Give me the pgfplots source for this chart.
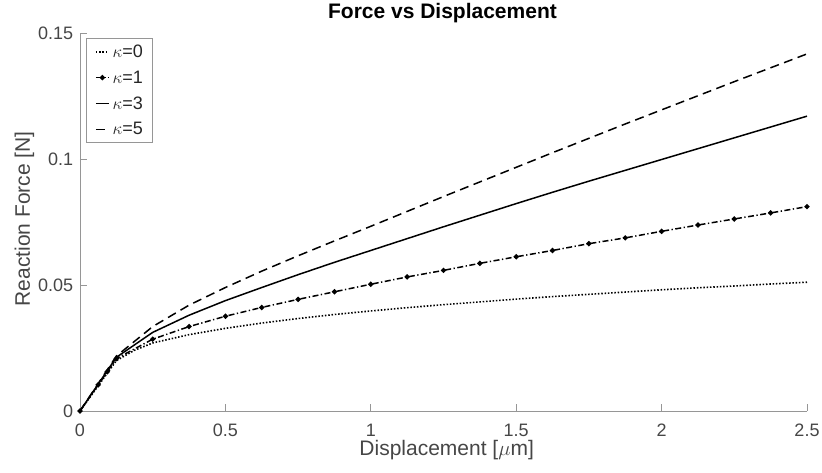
\documentclass[border=0pt]{standalone}
\usepackage{pgfplots}
\pgfplotsset{compat=1.18}
\usepackage{fontspec}
\setmainfont{Liberation Sans}
\definecolor{axgray}{RGB}{150,150,150}
\definecolor{txtgray}{RGB}{70,70,70}
\begin{document}
\begin{tikzpicture}
\begin{axis}[
  scale only axis, width=727pt, height=378pt,
  xmin=0, xmax=2.5, ymin=0, ymax=0.15,
  clip=false,
  axis lines*=left,
  axis line style={axgray, line width=0.8pt},
  tick align=inside,
  major tick length=7pt,
  tick style={axgray, line width=0.8pt},
  xtick={0,0.5,1,1.5,2,2.5}, xticklabels={0,0.5,1,1.5,2,2.5},
  ytick={0,0.05,0.1,0.15}, yticklabels={0,0.05,0.1,0.15},
  /pgf/number format/assume math mode=true,
  ticklabel style={font=\fontsize{18}{18}\selectfont, text=txtgray},
  xticklabel style={anchor=north, inner sep=0pt, text height=25pt, text depth=0pt},
  yticklabel style={anchor=east, inner sep=0pt, xshift=-6.7pt},
  title={Force vs Displacement},
  title style={at={(axis description cs:0.4986,1.0238)}, anchor=base, inner sep=0pt, font=\fontsize{21}{21}\selectfont\bfseries, text=black},
  xlabel={Displacement [$\mu$m]},
  xlabel style={at={(axis description cs:0.5044,-0.1190)}, anchor=base, inner sep=0pt, font=\fontsize{21}{21}\selectfont, text=txtgray},
  ylabel={Reaction Force [N]},
  ylabel style={at={(axis description cs:-0.0688,0.508)}, anchor=base, inner sep=0pt, font=\fontsize{21}{21}\selectfont, text=txtgray},
  legend style={at={(axis description cs:0.0078,0.986)}, anchor=north west,
    draw=axgray, line width=0.8pt, fill=white,
    font=\fontsize{18}{18}\selectfont, text=black!85,
    inner xsep=9pt, inner ysep=6pt, row sep=11.9pt, column sep=3pt,
    nodes={inner sep=0pt}},
  legend cell align=left,
  legend image code/.code={\draw[mark repeat=2,mark phase=2,#1] plot coordinates {(0pt,0pt) (6.5pt,0pt) (13pt,0pt)};},
]
\addplot[black, line width=1.6pt, dash pattern=on 1.5pt off 1.8pt] coordinates {
(0,0)(0.125,0.0200)(0.1875,0.0241)(0.25,0.0270)(0.375,0.0303)(0.5,0.0328)(0.625,0.0349)(0.75,0.0367)(0.875,0.0383)(1,0.0397)(1.125,0.0410)(1.25,0.0422)(1.375,0.0433)(1.5,0.0444)(1.625,0.0454)(1.75,0.0463)(1.875,0.0472)(2,0.0481)(2.125,0.0489)(2.25,0.0496)(2.375,0.0504)(2.5,0.0511)
};
\addplot[black, line width=1.5pt, dash pattern=on 6pt off 2.5pt on 1.3pt off 2.5pt, mark=*, mark size=1.8pt, mark options={solid}] coordinates {
(0,0)(0.0625,0.0104)(0.09375,0.0156)(0.125,0.0208)(0.25,0.0285)(0.375,0.0335)(0.5,0.0376)(0.625,0.0411)(0.75,0.0443)(0.875,0.0473)(1,0.0503)(1.125,0.0532)(1.25,0.0558)(1.375,0.0586)(1.5,0.0612)(1.625,0.0637)(1.75,0.0664)(1.875,0.0687)(2,0.0713)(2.125,0.0738)(2.25,0.0762)(2.375,0.0786)(2.5,0.0811)
};
\addplot[black, line width=1.5pt, solid] coordinates {
(0,0)(0.125,0.0213)(0.25,0.0312)(0.375,0.0380)(0.5,0.0438)(0.625,0.0490)(0.75,0.0541)(0.875,0.0590)(1,0.0637)(1.125,0.0684)(1.25,0.0731)(1.375,0.0777)(1.5,0.0823)(1.625,0.0868)(1.75,0.0912)(1.875,0.0955)(2,0.0998)(2.125,0.1041)(2.25,0.1084)(2.375,0.1127)(2.5,0.1170)
};
\addplot[black, line width=1.5pt, dash pattern=on 9pt off 5.5pt] coordinates {
(0,0)(0.125,0.0218)(0.25,0.0335)(0.375,0.0420)(0.5,0.0490)(0.625,0.0555)(0.75,0.0616)(0.875,0.0675)(1,0.0733)(1.125,0.0792)(1.25,0.0851)(1.375,0.0909)(1.5,0.0967)(1.625,0.1025)(1.75,0.1082)(1.875,0.1139)(2,0.1195)(2.125,0.1251)(2.25,0.1307)(2.375,0.1362)(2.5,0.1417)
};
\legend{$\kappa$=0, $\kappa$=1, $\kappa$=3, $\kappa$=5}
\end{axis}
\pgfresetboundingbox
\useasboundingbox (-80pt,-61pt) rectangle (742pt,411pt);
\end{tikzpicture}
\end{document}
